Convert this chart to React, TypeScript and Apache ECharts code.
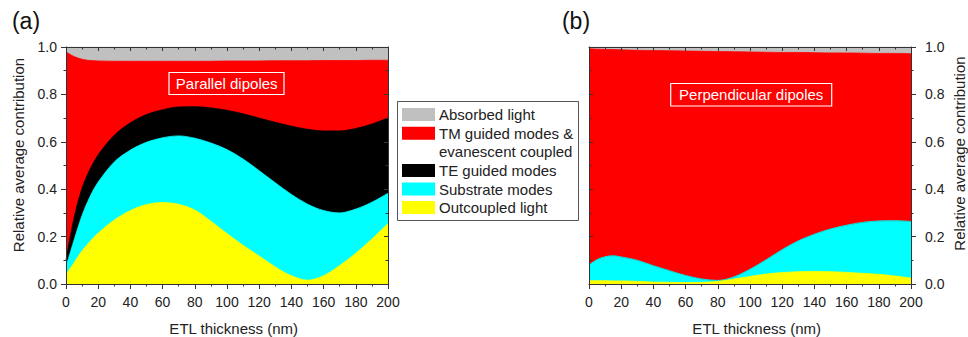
import React, { useEffect, useRef } from "react";
import * as echarts from "echarts";

// ETL thickness (nm)
const thickness = [0, 5, 10, 15, 20, 30, 40, 50, 60, 70, 80, 90, 100, 110, 120, 130, 140, 150, 160, 170, 180, 190, 200];

const xTicks = [0, 20, 40, 60, 80, 100, 120, 140, 160, 180, 200];
const yTicks = [0, 0.2, 0.4, 0.6, 0.8, 1.0];

// stacking order: bottom -> top
const seriesNames = ["Outcoupled light", "Substrate modes", "TE guided modes", "TM guided modes & evanescent coupled", "Absorbed light"];
const seriesColors = ["#ffff00", "#00ffff", "#000000", "#ff0000", "#c0c0c0"];

// (a) Parallel dipoles – relative contributions
const parOutcoupled = [0.04, 0.09, 0.14, 0.18, 0.215, 0.27, 0.31, 0.335, 0.344, 0.336, 0.312, 0.265, 0.213, 0.163, 0.118, 0.072, 0.035, 0.016, 0.035, 0.078, 0.13, 0.19, 0.255];
const parSubstrate = [0.034, 0.095, 0.15, 0.19, 0.215, 0.245, 0.255, 0.263, 0.273, 0.289, 0.303, 0.33, 0.354, 0.364, 0.36, 0.355, 0.343, 0.321, 0.275, 0.222, 0.186, 0.155, 0.128];
const parTE = [0.026, 0.095, 0.115, 0.115, 0.115, 0.113, 0.115, 0.117, 0.118, 0.122, 0.133, 0.148, 0.166, 0.191, 0.222, 0.255, 0.288, 0.316, 0.336, 0.346, 0.34, 0.33, 0.318];
const parTM = [0.879, 0.68, 0.543, 0.458, 0.396, 0.312, 0.26, 0.225, 0.205, 0.193, 0.192, 0.197, 0.208, 0.223, 0.241, 0.26, 0.276, 0.289, 0.297, 0.297, 0.287, 0.269, 0.243];
const parAbsorbed = [0.021, 0.04, 0.052, 0.057, 0.059, 0.06, 0.06, 0.06, 0.06, 0.06, 0.06, 0.06, 0.059, 0.059, 0.059, 0.058, 0.058, 0.058, 0.057, 0.057, 0.057, 0.056, 0.056];

// (b) Perpendicular dipoles – relative contributions
const perpOutcoupled = [0.014, 0.014, 0.014, 0.013, 0.013, 0.011, 0.008, 0.007, 0.006, 0.007, 0.011, 0.021, 0.032, 0.042, 0.048, 0.052, 0.053, 0.052, 0.049, 0.045, 0.041, 0.034, 0.025];
const perpSubstrate = [0.066, 0.089, 0.101, 0.106, 0.101, 0.089, 0.069, 0.049, 0.03, 0.014, 0.004, 0.009, 0.03, 0.06, 0.097, 0.13, 0.157, 0.18, 0.199, 0.215, 0.225, 0.233, 0.239];
const perpTE = [0, 0, 0, 0, 0, 0, 0, 0, 0, 0, 0, 0, 0, 0, 0, 0, 0, 0, 0, 0, 0, 0, 0];
const perpTM = [0.913, 0.888, 0.875, 0.87, 0.874, 0.886, 0.908, 0.928, 0.947, 0.961, 0.966, 0.95, 0.917, 0.876, 0.832, 0.795, 0.766, 0.743, 0.727, 0.714, 0.707, 0.706, 0.708];
const perpAbsorbed = [0.007, 0.009, 0.01, 0.011, 0.012, 0.014, 0.015, 0.016, 0.017, 0.018, 0.019, 0.02, 0.021, 0.022, 0.023, 0.023, 0.024, 0.025, 0.025, 0.026, 0.027, 0.027, 0.028];

const panelTitles = ["Parallel dipoles", "Perpendicular dipoles"];
const panelLetters = ["(a)", "(b)"];
const xAxisTitle = "ETL thickness (nm)";
const yAxisTitle = "Relative average contribution";
// legend rows (top -> bottom), index into seriesNames / colors
const legendRows = [
  { text: "Absorbed light", idx: 4 },
  { text: "TM guided modes &", idx: 3 },
  { text: "evanescent coupled", idx: -1 },
  { text: "TE guided modes", idx: 2 },
  { text: "Substrate modes", idx: 1 },
  { text: "Outcoupled light", idx: 0 },
];

const FONT = "'Liberation Sans', Arial, Helvetica, sans-serif";
const AXIS_COLOR = "#333";
const TEXT_COLOR = "#222";

export default function App() {
  const ref = useRef<HTMLDivElement>(null);

  useEffect(() => {
    if (!ref.current) return;
    const chart = echarts.init(ref.current, undefined, { renderer: "svg" });

    const grids = [
      { left: 66, top: 47, width: 322, height: 237 },
      { left: 589, top: 47, width: 322, height: 237 },
    ];

    const mkX = (grid: number, position: "bottom" | "top", main: boolean) => ({
      type: "value",
      gridIndex: grid,
      position,
      min: 0,
      max: 200,
      interval: 20,
      z: 10,
      axisLine: { show: true, onZero: false, lineStyle: { color: AXIS_COLOR, width: 1 } },
      axisTick: { show: true, inside: !main, length: main ? 5 : 4, lineStyle: { color: AXIS_COLOR, width: 1 } },
      minorTick: { show: true, splitNumber: 2, length: 2.5, lineStyle: { color: AXIS_COLOR, width: 1 } },
      axisLabel: {
        show: main,
        fontSize: 14,
        margin: 11,
        color: TEXT_COLOR,
        fontFamily: FONT,
        formatter: (v: number) => (xTicks.includes(Math.round(v)) ? String(Math.round(v)) : ""),
      },
      splitLine: { show: false },
      minorSplitLine: { show: false },
    });

    const mkY = (grid: number, position: "left" | "right", main: boolean, margin: number) => ({
      type: "value",
      gridIndex: grid,
      position,
      min: 0,
      max: 1,
      interval: 0.2,
      z: 10,
      axisLine: { show: true, onZero: false, lineStyle: { color: AXIS_COLOR, width: 1 } },
      axisTick: { show: true, inside: !main, length: main ? 5 : 4, lineStyle: { color: AXIS_COLOR, width: 1 } },
      minorTick: { show: true, splitNumber: 2, length: 2.5, lineStyle: { color: AXIS_COLOR, width: 1 } },
      axisLabel: {
        show: main,
        fontSize: 14,
        margin,
        color: TEXT_COLOR,
        fontFamily: FONT,
        formatter: (v: number) => (yTicks.some((t) => Math.abs(t - v) < 1e-6) ? v.toFixed(1) : ""),
      },
      splitLine: { show: false },
      minorSplitLine: { show: false },
    });

    const panels = [
      [parOutcoupled, parSubstrate, parTE, parTM, parAbsorbed],
      [perpOutcoupled, perpSubstrate, perpTE, perpTM, perpAbsorbed],
    ];

    // Build cumulative (stacked) tops; draw top layer first so lower layers overlay it.
    const series: any[] = [];
    panels.forEach((vals, p) => {
      const tops: number[][] = [];
      vals.forEach((v, k) => {
        tops.push(v.map((y, i) => (k === 0 ? 0 : tops[k - 1][i]) + y));
      });
      for (let k = vals.length - 1; k >= 0; k--) {
        const zeroLayer = vals[k].every((y) => y === 0);
        series.push({
          type: "line",
          name: seriesNames[k],
          xAxisIndex: p * 2,
          yAxisIndex: p * 2,
          data: thickness.map((t, i) => [t, Math.min(1, tops[k][i])]),
          smooth: 0.33,
          showSymbol: false,
          symbol: "none",
          lineStyle: { width: zeroLayer ? 0.6 : 0.8, color: zeroLayer ? "#666" : seriesColors[k] },
          areaStyle: { color: seriesColors[k], opacity: 1, origin: "start" },
          itemStyle: { color: seriesColors[k] },
          silent: true,
        });
      }
    });

    const graphic: any[] = [];
    // panel letters
    [[26, 21], [576, 21]].forEach(([x, y], i) => {
      graphic.push({
        type: "text",
        x,
        y,
        style: { text: panelLetters[i], font: `23px ${FONT}`, fill: "#111", textAlign: "center", textVerticalAlign: "middle" },
      });
    });
    // panel title boxes
    const boxes = [
      { x: 169, y: 72.5, w: 115, h: 22, cx: 226.7, cy: 83.5 },
      { x: 670.7, y: 83.5, w: 161, h: 22.5, cx: 751.2, cy: 94.7 },
    ];
    boxes.forEach((b, i) => {
      graphic.push({
        type: "rect",
        shape: { x: b.x, y: b.y, width: b.w, height: b.h },
        style: { fill: "none", stroke: "#ffffff", lineWidth: 1.2 },
        z: 100,
      });
      graphic.push({
        type: "text",
        x: b.cx,
        y: b.cy,
        z: 101,
        style: { text: panelTitles[i], font: `15px ${FONT}`, fill: "#ffffff", textAlign: "center", textVerticalAlign: "middle" },
      });
    });
    // axis titles
    [233.7, 756.7].forEach((cx) => {
      graphic.push({
        type: "text",
        x: cx,
        y: 328,
        style: { text: xAxisTitle, font: `15px ${FONT}`, fill: TEXT_COLOR, textAlign: "center", textVerticalAlign: "middle" },
      });
    });
    [[18.5, 155], [959.5, 153.5]].forEach(([cx, cy]) => {
      graphic.push({
        type: "text",
        x: cx,
        y: cy,
        rotation: Math.PI / 2,
        style: { text: yAxisTitle, font: `15px ${FONT}`, fill: TEXT_COLOR, textAlign: "center", textVerticalAlign: "middle" },
      });
    });
    // legend box
    graphic.push({
      type: "rect",
      shape: { x: 397.5, y: 101.5, width: 181, height: 119 },
      style: { fill: "#ffffff", stroke: "#555", lineWidth: 1 },
    });
    legendRows.forEach((row, i) => {
      const cy = 114.6 + i * 18.6;
      if (row.idx >= 0) {
        graphic.push({
          type: "rect",
          shape: { x: 402, y: cy - 6.5, width: 33, height: 13 },
          style: { fill: seriesColors[row.idx] },
        });
      }
      graphic.push({
        type: "text",
        x: 439,
        y: cy,
        style: { text: row.text, font: `15px ${FONT}`, fill: TEXT_COLOR, textAlign: "left", textVerticalAlign: "middle" },
      });
    });

    chart.setOption({
      animation: false,
      backgroundColor: "#ffffff",
      textStyle: { fontFamily: FONT },
      grid: grids,
      xAxis: [mkX(0, "bottom", true), mkX(0, "top", false), mkX(1, "bottom", true), mkX(1, "top", false)],
      yAxis: [mkY(0, "left", true, 9), mkY(0, "right", false, 8), mkY(1, "right", true, 14), mkY(1, "left", false, 8)],
      series,
      graphic,
    });

    return () => chart.dispose();
  }, []);

  return <div ref={ref} style={{ position: "absolute", left: 0, top: 0, width: 968, height: 337 }} />;
}
